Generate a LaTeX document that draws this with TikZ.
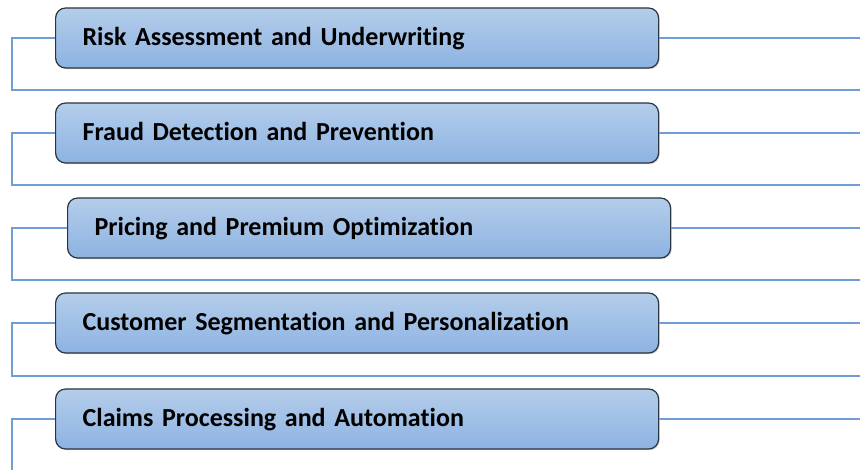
\documentclass[tikz,border=0pt]{standalone}
\usepackage{fontspec}
\setmainfont{Carlito}[RawFeature=-liga]
\usetikzlibrary{shadows}
\definecolor{boxtop}{HTML}{B4CDEA}
\definecolor{boxbot}{HTML}{8DB3E2}
\definecolor{boxline}{HTML}{2B3540}
\definecolor{linkblue}{HTML}{6F9ED6}
\begin{document}
\begin{tikzpicture}[x=1pt, y=-1pt,
    area/.style={draw=boxline, line width=1.2pt, rounded corners=10pt,
                 top color=boxtop, bottom color=boxbot,
                 drop shadow={shadow xshift=1.2pt, shadow yshift=-1.2pt, opacity=0.35},
                 anchor=west, minimum height=60pt, text width=549pt,
                 text height=19pt, text depth=3pt,
                 inner xsep=27pt, align=left, font=\fontsize{26}{30}\selectfont\bfseries},
    link/.style={draw=linkblue, line width=1.5pt}]
  \useasboundingbox (0,0) rectangle (860,470);
  % the five use cases
  \node [area] (risk)    at (55,38)  {Risk Assessment and Underwriting};
  \node [area] (fraud)   at (55,133) {Fraud Detection and Prevention};
  \node [area] (pricing) at (67,228) {Pricing and Premium Optimization};
  \node [area] (segment) at (55,323) {Customer Segmentation and Personalization};
  \node [area] (claims)  at (55,419) {Claims Processing and Automation};
  % free ends of the brackets
  \coordinate (r1) at (12,38);  \coordinate (r2) at (12,90);  \coordinate (r3) at (860,90);  \coordinate (r4) at (860,38);
  \coordinate (f1) at (12,133); \coordinate (f2) at (12,185); \coordinate (f3) at (860,185); \coordinate (f4) at (860,133);
  \coordinate (p1) at (12,228); \coordinate (p2) at (12,280); \coordinate (p3) at (860,280); \coordinate (p4) at (860,228);
  \coordinate (s1) at (12,323); \coordinate (s2) at (12,376); \coordinate (s3) at (860,376); \coordinate (s4) at (860,323);
  \coordinate (c1) at (12,419); \coordinate (c2) at (12,470); \coordinate (c4) at (860,419);
  % brackets and side lines
  \path [link] (risk.west) -- (r1) -- (r2) -- (r3)  (risk.east) -- (r4);
  \path [link] (fraud.west) -- (f1) -- (f2) -- (f3)  (fraud.east) -- (f4);
  \path [link] (pricing.west) -- (p1) -- (p2) -- (p3)  (pricing.east) -- (p4);
  \path [link] (segment.west) -- (s1) -- (s2) -- (s3)  (segment.east) -- (s4);
  \path [link] (claims.west) -- (c1) -- (c2)  (claims.east) -- (c4);
\end{tikzpicture}
\end{document}
